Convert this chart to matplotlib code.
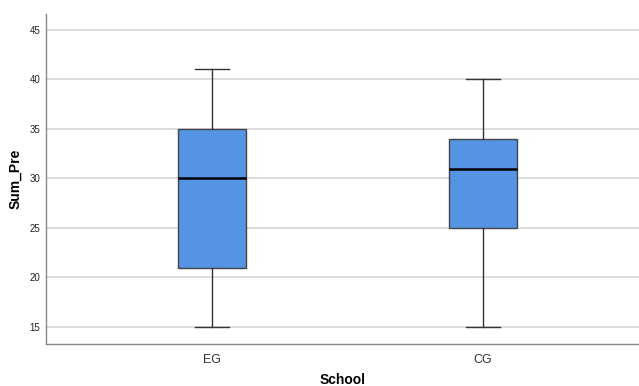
import numpy as np
import matplotlib
matplotlib.use('Agg')
import matplotlib.pyplot as plt

plt.rcParams['font.family'] = ['Liberation Sans', 'DejaVu Sans']

groups = ['EG', 'CG']
mins = [15, 15]
q1s = [21, 25]
medians = [30, 31]
q3s = [35, 34]
maxs = [41, 40]

stats = []
for g, lo, a, m, b, hi in zip(groups, mins, q1s, medians, q3s, maxs):
    stats.append({'label': g, 'whislo': lo, 'q1': a, 'med': m, 'q3': b, 'whishi': hi, 'fliers': []})

fig = plt.figure(figsize=(6.39, 3.86), dpi=100)
ax = fig.add_axes([46/639, 1-344/386, 593/639, 330/386])

ax.bxp(stats, positions=[0, 1], widths=0.25, patch_artist=True, showfliers=False,
       boxprops=dict(facecolor='#5594E3', edgecolor='#444444', linewidth=1.0),
       medianprops=dict(color='black', linewidth=1.8),
       whiskerprops=dict(color='#333333', linewidth=1.0),
       capprops=dict(color='#333333', linewidth=1.0), capwidths=0.125)

ax.set_xlim(-0.6125, 1.576)
ax.set_ylim(13.28, 46.6)
ax.set_yticks([15, 20, 25, 30, 35, 40, 45])
ax.yaxis.grid(True, color='#d9d9d9', linewidth=1.3)
ax.set_axisbelow(True)
ax.tick_params(axis='both', length=0)
ax.tick_params(axis='y', labelsize=7, pad=4, labelcolor='#222222')
ax.tick_params(axis='x', labelsize=9, pad=7, labelcolor='#333333')

for s in ['top', 'right']:
    ax.spines[s].set_visible(False)
for s in ['left', 'bottom']:
    ax.spines[s].set_color('#888888')
    ax.spines[s].set_linewidth(1.0)

ax.set_xlabel('School', fontsize=10, fontweight='bold', labelpad=5)
ax.set_ylabel('Sum_Pre', fontsize=10, fontweight='bold', labelpad=5)

fig.savefig('out.png', dpi=100)
